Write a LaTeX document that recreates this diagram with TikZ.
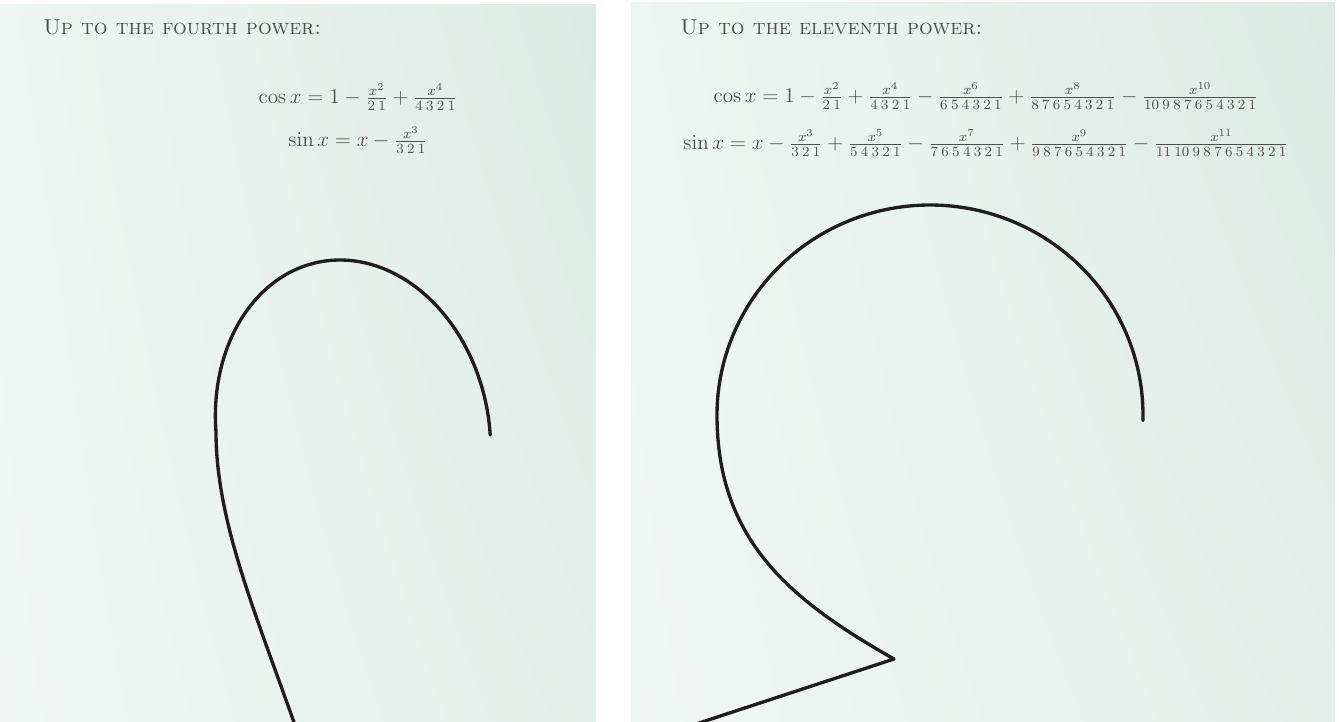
\documentclass[tikz,border=0pt]{standalone}
\usepackage{amsmath}
\usepackage{tikz}
\usetikzlibrary{positioning, shadings}

\definecolor{panelA}{HTML}{EEF5F2}
\definecolor{panelB}{HTML}{DCEBE5}
\definecolor{panelC}{HTML}{F1F6F4}
\definecolor{panelD}{HTML}{E3EFEA}
\definecolor{inkgray}{HTML}{4E4E4E}
\definecolor{curveink}{HTML}{1E1E1E}

\tikzset{
    powertitle/.style={anchor=west, text=inkgray, inner sep=0pt, font=\fontsize{12.3}{14}\selectfont\scshape},
    series/.style={text=inkgray, inner sep=0pt, font=\fontsize{12}{14}\selectfont},
    turtle/.style={curveink, line width=1.9pt, line cap=round, line join=round}
}

\begin{document}
\begin{tikzpicture}[x=0.02cm, y=-0.02cm]
    \useasboundingbox (0,0) rectangle (1339,722);

    % Panels
    \shade[upper left=panelA, upper right=panelB, lower left=panelC, lower right=panelD] (0,5) rectangle (596,722);
    \shade[upper left=panelA, upper right=panelB, lower left=panelC, lower right=panelD] (631,3) rectangle (1335,722);

    % Left panel text
    \node[powertitle] (fourthTitle) at (43,27) {Up to the fourth power:};
    \node[series] (cosFour) at (358,97) {$\cos x = 1 - \tfrac{x^2}{2\:1} + \tfrac{x^4}{4\:3\:2\:1}$};
    \node[series] (sinFour) at (358,140) {$\sin x = x - \tfrac{x^3}{3\:2\:1}$};

    % Right panel text
    \node[powertitle] (eleventhTitle) at (680,27) {Up to the eleventh power:};
    \node[series] (cosEleven) at (986,96) {$\cos x = 1 - \tfrac{x^2}{2\:1} + \tfrac{x^4}{4\:3\:2\:1} - \tfrac{x^6}{6\:5\:4\:3\:2\:1} + \tfrac{x^8}{8\:7\:6\:5\:4\:3\:2\:1} - \tfrac{x^{10}}{10\:9\:8\:7\:6\:5\:4\:3\:2\:1}$};
    \node[series] (sinEleven) at (986,143) {$\sin x = x - \tfrac{x^3}{3\:2\:1} + \tfrac{x^5}{5\:4\:3\:2\:1} - \tfrac{x^7}{7\:6\:5\:4\:3\:2\:1} + \tfrac{x^9}{9\:8\:7\:6\:5\:4\:3\:2\:1} - \tfrac{x^{11}}{11\:10\:9\:8\:7\:6\:5\:4\:3\:2\:1}$};

    % Fourth power curve
    \begin{scope}
        \clip (0,5) rectangle (596,722);
        \draw[turtle] plot[domain=-1:180, samples=90, smooth]
            ({353+137*cos(\x)-13*sin(\x)}, {432-172*sin(\x)})
            .. controls (216,520) and (255,612) .. (296,728);
    \end{scope}

    % Eleventh power curve
    \begin{scope}
        \clip (631,3) rectangle (1335,722);
        \draw[turtle] plot[domain=-1.5:180, samples=90, smooth]
            ({930+213*cos(\x)}, {415-210*sin(\x)})
            .. controls (717,540) and (790,600) .. (894,659) -- (696,724);
    \end{scope}
\end{tikzpicture}
\end{document}
